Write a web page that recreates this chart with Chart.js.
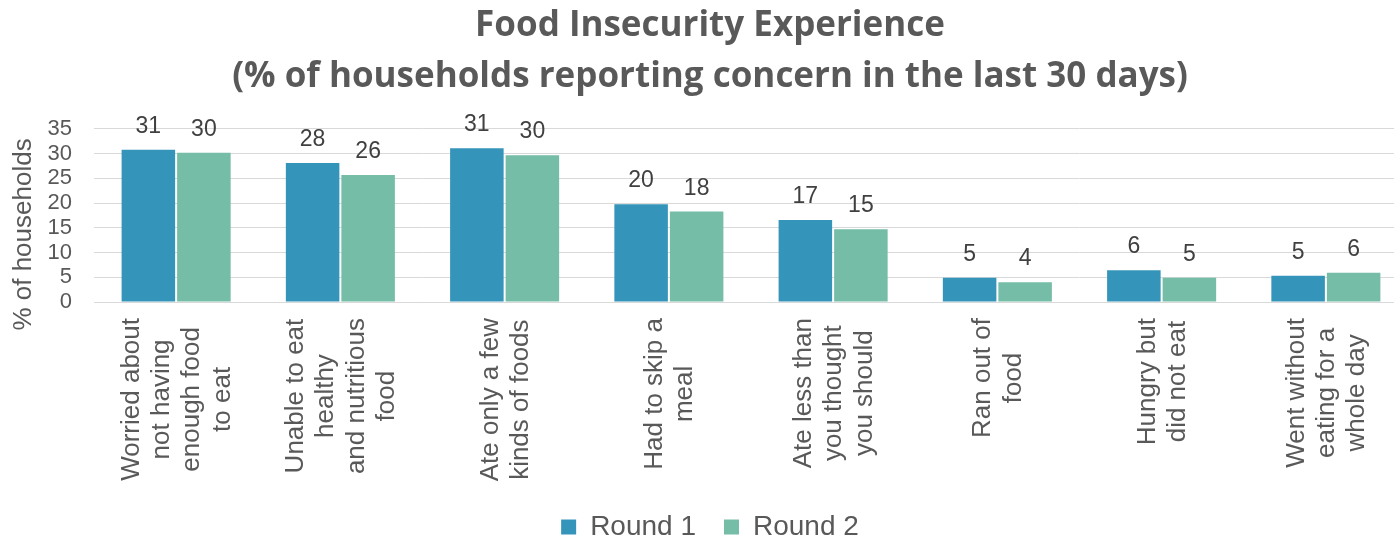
<!DOCTYPE html>
<html>
<head>
<meta charset="utf-8">
<script src="https://cdn.jsdelivr.net/npm/chart.js@4.4.1/dist/chart.umd.min.js"></script>
<style>
  html, body { margin: 0; padding: 0; background: #ffffff; overflow: hidden; }
  #wrap { width: 1408px; height: 540px; }
</style>
</head>
<body>
<div id="wrap"><canvas id="chart"></canvas></div>
<script>
// Chart data
const categories = [
    ['Worried about', 'not having', 'enough food', 'to eat'],
    ['Unable to eat', 'healthy', 'and nutritious', 'food'],
    ['Ate only a few', 'kinds of foods'],
    ['Had to skip a', 'meal'],
    ['Ate less than', 'you thought', 'you should'],
    ['Ran out of', 'food'],
    ['Hungry but', 'did not eat'],
    ['Went without', 'eating for a', 'whole day']
];
const round1 = [30.8, 28.1, 31.1, 19.8, 16.6, 4.9, 6.4, 5.3];
const round2 = [30.2, 25.7, 29.7, 18.3, 14.7, 4.0, 4.9, 5.9];
const yTicks = [0, 5, 10, 15, 20, 25, 30, 35];
const yTitle = '% of households';

const textColor = '#595959';
const gridColor = '#d9d9d9';
const labelFont = '"Liberation Sans", Arial, sans-serif';

//Value labels above bars
const valueLabels = {
    id: 'valueLabels',
    afterDatasetsDraw(chart) {
        const ctx = chart.ctx;
        ctx.save();
        ctx.font = '23px ' + labelFont;
        ctx.fillStyle = '#404040';
        ctx.textAlign = 'center';
        ctx.textBaseline = 'alphabetic';
        chart.data.datasets.forEach((ds, di) => {
            chart.getDatasetMeta(di).data.forEach((bar, i) => {
                ctx.fillText(Math.round(ds.data[i]), bar.x, bar.y - 17);
            });
        });
        ctx.restore();
    }
};

//Rotated category labels (lines centred) and y axis title
const axisText = {
    id: 'axisText',
    afterDraw(chart) {
        const ctx = chart.ctx;
        const scale = chart.scales.x;
        const area = chart.chartArea;
        const lineGap = 30.4;
        ctx.save();
        ctx.font = '26px ' + labelFont;
        ctx.fillStyle = textColor;
        ctx.textAlign = 'center';
        ctx.textBaseline = 'middle';
        categories.forEach((lines, i) => {
            const x = scale.getPixelForTick(i);
            const maxW = Math.max(...lines.map(l => ctx.measureText(l).width));
            const cy = area.bottom + 16 + maxW / 2;
            lines.forEach((line, j) => {
                const lx = x + (j - (lines.length - 1) / 2) * lineGap;
                ctx.save();
                ctx.translate(lx, cy);
                ctx.rotate(-Math.PI / 2);
                ctx.fillText(line, 0, 1);
                ctx.restore();
            });
        });
        // y title sits a bit below the plot middle in the original
        ctx.translate(chart.scales.y.left + 11, (area.top + area.bottom) / 2 + 19);
        ctx.rotate(-Math.PI / 2);
        ctx.fillText(yTitle, 0, 1);
        ctx.restore();
    }
};

new Chart(document.getElementById('chart').getContext('2d'), {
    type: 'bar',
    data: {
        labels: categories,
        datasets: [{
            label: 'Round 1',
            data: round1,
            backgroundColor: '#3494ba',
            categoryPercentage: 0.676,
            barPercentage: 0.964
        }, {
            label: 'Round 2',
            data: round2,
            backgroundColor: '#75bda7',
            categoryPercentage: 0.676,
            barPercentage: 0.964
        }]
    },
    options: {
        responsive: true,
        maintainAspectRatio: false,
        animation: false,
        layout: { padding: { top: 1, right: 0, bottom: -11, left: 12 } },
        plugins: {
            title: {
                display: true,
                text: ['Food Insecurity Experience', '(% of households reporting concern in the last 30 days)'],
                color: textColor,
                font: { family: '"Open Sans", sans-serif', size: 35, weight: 'bold', lineHeight: 1.457 },
                padding: { top: 0, bottom: 26 }
            },
            legend: {
                position: 'bottom',
                labels: {
                    color: textColor,
                    font: { family: labelFont, size: 28 },
                    boxWidth: 15,
                    boxHeight: 15,
                    padding: 28
                }
            },
            tooltip: { enabled: false }
        },
        scales: {
            x: {
                grid: { display: false },
                border: { color: gridColor, width: 1 },
                ticks: { display: false },
                afterFit: scale => { scale.height = 183; }
            },
            y: {
                min: 0,
                max: 35,
                afterBuildTicks: axis => { axis.ticks = yTicks.map(v => ({ value: v })); },
                afterFit: scale => { scale.width = 82; },
                grid: { color: gridColor, lineWidth: 1, drawTicks: false },
                border: { display: false },
                ticks: {
                    color: textColor,
                    font: { family: labelFont, size: 22 },
                    padding: 22,
                    autoSkip: false
                }
            }
        }
    },
    plugins: [valueLabels, axisText]
});
</script>
</body>
</html>
